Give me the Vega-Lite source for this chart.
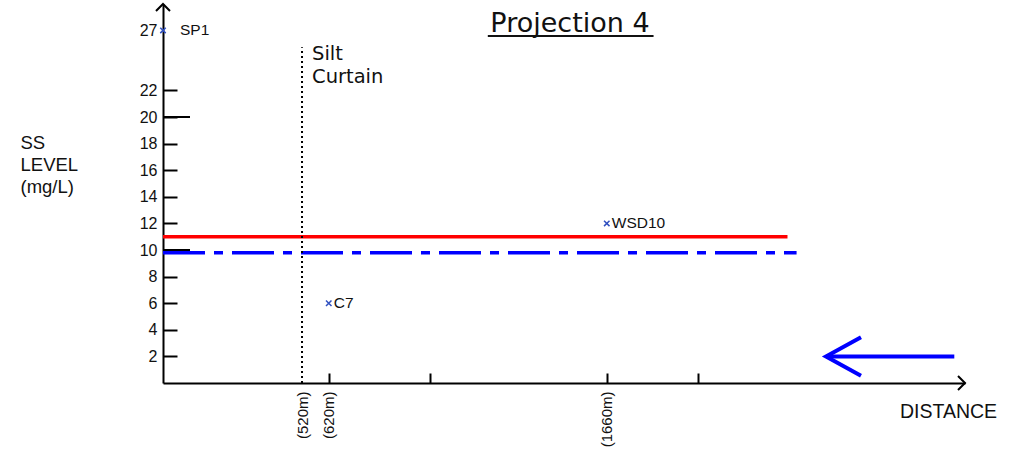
{
  "$schema": "https://vega.github.io/schema/vega-lite/v6.json",
  "width": 802,
  "height": 379,
  "autosize": {"type": "none"},
  "padding": {"left": 163, "top": 4, "right": 47, "bottom": 71},
  "background": "white",
  "title": {
    "text": "Projection 4",
    "anchor": "middle",
    "frame": "group",
    "offset": -38,
    "dx": 6,
    "font": "DejaVu Sans",
    "fontSize": 27,
    "fontWeight": "normal",
    "color": "#111111"
  },
  "config": {"view": {"stroke": null}, "font": "Liberation Sans"},
  "data": {"values": [{}]},
  "datasets": {
    "stations": [
      {"station": "SP1", "distance": 0, "ss": 27},
      {"station": "C7", "distance": 620, "ss": 6},
      {"station": "WSD10", "distance": 1660, "ss": 12}
    ],
    "limits": [
      {"limit": "Limit", "ss": 11, "start": 0, "end": 2336},
      {"limit": "Action", "ss": 9.8, "start": 0, "end": 2370}
    ],
    "curtain": [
      {"distance": 520, "bottom": 0, "top": 25.6, "label": "Silt Curtain"}
    ]
  },
  "layer": [
    {
      "data": {"name": "limits"},
      "mark": {"type": "rule", "strokeWidth": 3.5},
      "encoding": {
        "x": {
          "field": "start", "type": "quantitative",
          "scale": {"domain": [0, 3000], "nice": false, "zero": false},
          "axis": {
            "values": [520, 620, 1000, 1660, 2000],
            "tickCount": 20,
            "labelExpr": "datum.value == 1000 || datum.value == 2000 ? '' : '(' + datum.value + 'm)'",
            "labelAngle": -90,
            "labelFontSize": 15,
            "labelColor": "#111111",
            "labelOverlap": false,
            "labelFlush": false,
            "tickColor": "black",
            "tickWidth": 2,
            "tickSize": -10,
            "tickOpacity": {"condition": {"test": "datum.value == 520", "value": 0}, "value": 1},
            "labelPadding": 18,
            "domainColor": "black",
            "domainWidth": 2,
            "grid": false,
            "title": "DISTANCE",
            "titleX": 785,
            "titleY": 28,
            "titleAlign": "center",
            "titleBaseline": "middle",
            "titleFontSize": 19.5,
            "titleFontWeight": "normal",
            "titleColor": "#111111"
          }
        },
        "x2": {"field": "end"},
        "y": {
          "field": "ss", "type": "quantitative",
          "scale": {"domain": [0, 22, 29.2], "range": [379, 86.4, 0], "nice": false},
          "axis": {
            "values": [2, 4, 6, 8, 10, 12, 14, 16, 18, 20, 22, 27],
            "tickCount": 40,
            "labelFontSize": 16,
            "labelColor": "#111111",
            "labelOverlap": false,
            "labelFlush": false,
            "tickColor": "black",
            "tickWidth": 2,
            "tickSize": -14,
            "tickOpacity": {"condition": {"test": "datum.value == 27", "value": 0}, "value": 1},
            "labelPadding": 20,
            "domainColor": "black",
            "domainWidth": 2,
            "grid": false,
            "title": ["SS", "LEVEL", "(mg/L)"],
            "titleAngle": 0,
            "titleAlign": "left",
            "titleBaseline": "top",
            "titleX": -143,
            "titleY": 129,
            "titleFontSize": 18.5,
            "titleFontWeight": "normal",
            "titleLineHeight": 22,
            "titleColor": "#111111"
          }
        },
        "color": {"field": "limit", "type": "nominal", "scale": {"domain": ["Limit", "Action"], "range": ["#ff0000", "#0000ff"]}, "legend": null},
        "strokeDash": {"field": "limit", "type": "nominal", "scale": {"domain": ["Limit", "Action"], "range": [[1, 0], [42, 9, 9, 9]]}, "legend": null}
      }
    },
    {
      "data": {"values": [{"level": 10}, {"level": 20}]},
      "mark": {"type": "tick", "orient": "horizontal", "size": 27, "thickness": 2, "xOffset": 13.5, "color": "black", "opacity": 1},
      "encoding": {
        "x": {"datum": 0, "type": "quantitative"},
        "y": {"field": "level", "type": "quantitative"}
      }
    },
    {
      "data": {"name": "curtain"},
      "mark": {"type": "rule", "color": "black", "strokeWidth": 2, "strokeDash": [2, 3]},
      "encoding": {
        "x": {"field": "distance", "type": "quantitative"},
        "y": {"field": "bottom", "type": "quantitative"},
        "y2": {"field": "top"}
      }
    },
    {
      "data": {"name": "curtain"},
      "mark": {"type": "text", "align": "left", "baseline": "top", "font": "DejaVu Sans", "dx": 10, "dy": -2, "fontSize": 19.5, "lineHeight": 23, "color": "#111111", "lineBreak": " "},
      "encoding": {
        "x": {"field": "distance", "type": "quantitative"},
        "y": {"field": "top", "type": "quantitative"},
        "text": {"field": "label"}
      }
    },
    {
      "data": {"name": "stations"},
      "mark": {"type": "point", "shape": "M-1,-1L1,1M-1,1L1,-1", "size": 30, "filled": false, "strokeWidth": 1.5, "color": "#3050c0", "opacity": 1},
      "encoding": {
        "x": {"field": "distance", "type": "quantitative"},
        "y": {"field": "ss", "type": "quantitative"}
      }
    },
    {
      "data": {"name": "stations"},
      "transform": [{"filter": "datum.station != 'SP1'"}],
      "mark": {"type": "text", "align": "left", "baseline": "middle", "dx": 5, "fontSize": 15.5, "color": "#111111"},
      "encoding": {
        "x": {"field": "distance", "type": "quantitative"},
        "y": {"field": "ss", "type": "quantitative"},
        "text": {"field": "station"}
      }
    },
    {
      "data": {"name": "stations"},
      "transform": [{"filter": "datum.station == 'SP1'"}],
      "mark": {"type": "text", "align": "left", "baseline": "middle", "dx": 17, "fontSize": 15.5, "color": "#111111"},
      "encoding": {
        "x": {"field": "distance", "type": "quantitative"},
        "y": {"field": "ss", "type": "quantitative"},
        "text": {"field": "station"}
      }
    },
    {
      "mark": {"type": "point", "shape": "M-1,1L0,0L1,1", "size": 196, "filled": false, "strokeWidth": 2, "color": "black", "opacity": 1},
      "encoding": {
        "x": {"datum": 0, "type": "quantitative"},
        "y": {"datum": 29.2, "type": "quantitative"}
      }
    },
    {
      "mark": {"type": "point", "shape": "M-1,-1L0,0L-1,1", "size": 196, "filled": false, "strokeWidth": 2, "color": "black", "opacity": 1},
      "encoding": {
        "x": {"datum": 3000, "type": "quantitative"},
        "y": {"datum": 0, "type": "quantitative"}
      }
    },
    {
      "mark": {"type": "rule", "color": "#0000ff", "strokeWidth": 4},
      "encoding": {
        "x": {"datum": 2480, "type": "quantitative"},
        "x2": {"datum": 2960},
        "y": {"datum": 2, "type": "quantitative"}
      }
    },
    {
      "mark": {"type": "point", "shape": "M1,-0.55L0,0L1,0.55", "size": 4900, "filled": false, "strokeWidth": 4, "color": "#0000ff", "opacity": 1},
      "encoding": {
        "x": {"datum": 2480, "type": "quantitative"},
        "y": {"datum": 2, "type": "quantitative"}
      }
    },
    {
      "mark": {"type": "rule", "color": "#111111", "strokeWidth": 2},
      "encoding": {
        "x": {"datum": 1215, "type": "quantitative"},
        "x2": {"datum": 1835},
        "y": {"datum": 26.53, "type": "quantitative"}
      }
    }
  ]
}
